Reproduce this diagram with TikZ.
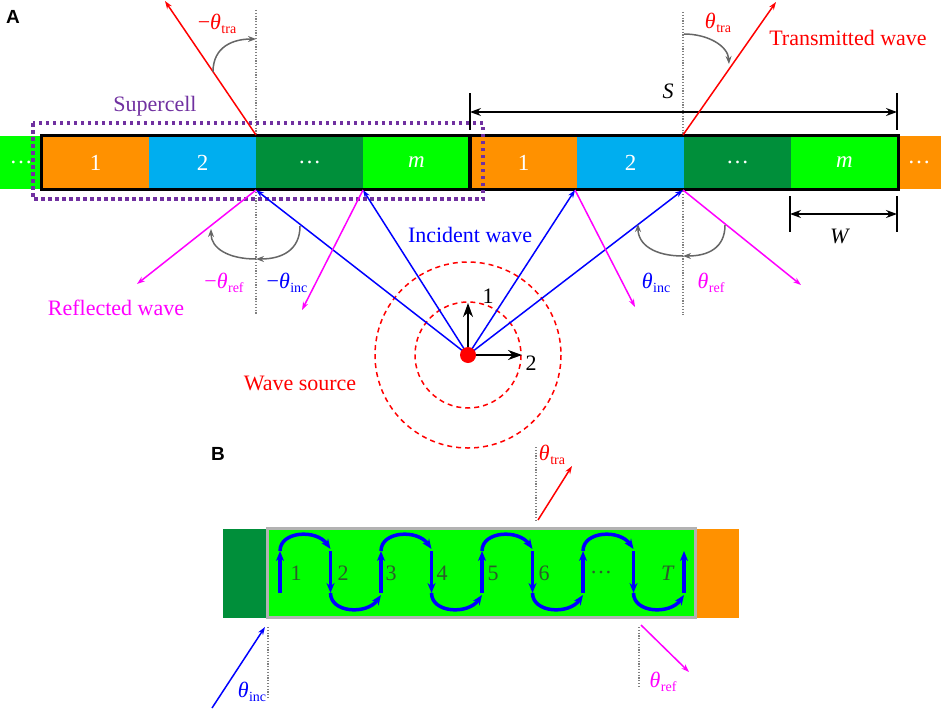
\documentclass[tikz,border=0pt]{standalone}
\usepackage{fontspec}
\setmainfont{Liberation Serif}
\newfontfamily\labelfont{Liberation Sans}
\usetikzlibrary{arrows.meta}

\definecolor{cellorange}{RGB}{255,145,0}
\definecolor{cellblue}{RGB}{0,174,239}
\definecolor{celldark}{RGB}{0,143,58}
\definecolor{cellgreen}{RGB}{0,255,0}
\definecolor{superpurple}{RGB}{112,48,160}
\definecolor{numgray}{RGB}{45,90,45}
\definecolor{refmag}{RGB}{255,0,255}
\definecolor{incblue}{RGB}{0,0,255}
\definecolor{trared}{RGB}{255,0,0}

% angle with a small upright index
\newcommand{\thetaq}[1]{\textit{θ}\kern0.5pt\raisebox{-0.4ex}{\fontsize{14}{14}\selectfont #1}}

\begin{document}
\begin{tikzpicture}[x=1pt, y=-1pt,
  txt/.style={inner sep=0pt, font=\fontsize{22}{24}\selectfont},
  cell/.style={minimum width=107pt, minimum height=53pt, inner sep=0pt, text=white, font=\fontsize{23}{24}\selectfont},
  normal/.style={gray, line width=1.1pt, dash pattern=on 1.2pt off 1.6pt},
  wave/.style={line width=1.5pt, -{Stealth[length=8pt,width=5.5pt]}},
  turn/.style={gray!80!black, line width=1.5pt, -{Stealth[length=8pt,width=6pt]}},
  dim/.style={line width=1.2pt, {Stealth[length=11pt,width=8pt]}-{Stealth[length=11pt,width=8pt]}},
  tick/.style={line width=1.2pt},
  hop/.style={incblue, line width=3.5pt, -{Stealth[length=10pt,width=8pt]}},
  front/.style={trared, line width=1.5pt, dash pattern=on 5pt off 4pt},
  axis/.style={line width=2pt, -{Stealth[length=14pt,width=10pt]}},
  panel/.style={inner sep=0pt, font={\labelfont\bfseries\fontsize{19}{20}\selectfont}}]
\useasboundingbox (0,0) rectangle (941,709);

% ---- panel A
\node[panel] (labA) at (13,17) {A};

\draw[normal] (256,10) -- (256,315);
\draw[normal] (683,12) -- (683,315);

\node[cell, fill=cellgreen, minimum width=42pt] (edgeL) at (21,162) {\ldots};
\node[cell, fill=cellorange, minimum width=44pt] (edgeR) at (919,162.5) {\ldots};
\foreach \s [count=\k] in {0,428} {
  \foreach \c/\t [count=\i] in {cellorange/1, cellblue/2, celldark/{\ldots}, cellgreen/{\textit{m}}}
    \node[cell, fill=\c] (c\k\i) at (42+\s+107*\i-53.5, 162.5) {\t};
}
\draw[line width=3pt] (c11.north west) rectangle (c14.south east);
\draw[line width=3pt] (c21.north west) rectangle (c24.south east);

\draw[superpurple, line width=3.5pt, dash pattern=on 3.5pt off 3.5pt] (33,123) rectangle (483,199);
\node[txt, text=superpurple] (scell) at (155,106) {Supercell};

% dimensions
\coordinate (sA) at (470,112); \coordinate (sB) at (897,112);
\draw[tick] (470,93) -- (470,130);
\draw[tick] (897,93) -- (897,130);
\draw[dim] (sA) -- (sB);
\node[txt] (labS) at (668,91) {\textit{S}};
\coordinate (wA) at (790,214); \coordinate (wB) at (897,214);
\draw[tick] (790,196) -- (790,232);
\draw[tick] (897,196) -- (897,232);
\draw[dim] (wA) -- (wB);
\node[txt] (labW) at (840,236) {\textit{W}};

% transmitted
\coordinate (t1) at (256,135); \coordinate (t2) at (683,135);
\coordinate (tr1) at (165,1);  \coordinate (tr2) at (776,2);
\draw[wave, trared] (t1) -- (tr1);
\draw[wave, trared] (t2) -- (tr2);
\draw[turn] (213,72) .. controls (213,46) and (234,39) .. (256,39);
\draw[turn] (684,34) .. controls (708,34) and (728,46) .. (729,64);
\node[txt, text=trared] (tra1) at (217,24) {−\thetaq{tra}};
\node[txt, text=trared] (tra2) at (718,23) {\thetaq{tra}};
\node[txt, text=trared] (trans) at (848,38) {Transmitted wave};

% incident and reflected
\coordinate (src) at (468,355);
\coordinate (h1) at (256,190); \coordinate (h2) at (363,190);
\coordinate (h3) at (575,190); \coordinate (h4) at (683,190);
\coordinate (r1) at (137,284); \coordinate (r2) at (302,310);
\coordinate (r3) at (635,307); \coordinate (r4) at (801,285);
\draw[front] (src) circle[radius=53];
\draw[front] (src) circle[radius=93];
\foreach \h in {h1,h2,h3,h4} \draw[wave, incblue] (src) -- (\h);
\foreach \h/\r in {h1/r1,h2/r2,h3/r3,h4/r4} \draw[wave, refmag] (\h) -- (\r);

\draw[turn] (300,226) .. controls (300,250) and (282,259) .. (256,259);
\draw[turn] (256,259) .. controls (228,259) and (211,248) .. (211,229);
\draw[turn] (725,225) .. controls (725,248) and (708,256) .. (683,256);
\draw[turn] (683,256) .. controls (655,256) and (638,245) .. (638,224);

\node[txt, text=refmag] (ref1) at (224,283) {−\thetaq{ref}};
\node[txt, text=incblue] (inc1) at (287,283) {−\thetaq{inc}};
\node[txt, text=incblue] (inc2) at (656,283) {\thetaq{inc}};
\node[txt, text=refmag] (ref2) at (711,283) {\thetaq{ref}};
\node[txt, text=incblue] (incw) at (470,235) {Incident wave};
\node[txt, text=refmag] (refw) at (116,308) {Reflected wave};
\node[txt, text=trared] (srcw) at (300,383) {Wave source};

\coordinate (ax1) at (468,303); \coordinate (ax2) at (522,355);
\draw[axis] (src) -- (ax1);
\draw[axis] (src) -- (ax2);
\node[circle, fill=trared, inner sep=0pt, minimum size=16pt] (dot) at (src) {};
\node[txt] (lab1) at (488,296) {1};
\node[txt] (lab2) at (531,363) {2};

% ---- panel B
\node[panel] (labB) at (218,454) {B};
\node[fill=celldark, inner sep=0pt, minimum width=43pt, minimum height=89pt] (bL) at (244.5,573) {};
\node[fill=cellorange, inner sep=0pt, minimum width=42pt, minimum height=89pt] (bR) at (718,573.5) {};
\node[fill=cellgreen, draw=gray!60, line width=3pt, inner sep=0pt, minimum width=428pt, minimum height=89pt] (bBox) at (481.5,573) {};

\foreach \k in {0,2,4,6} {
  \pgfmathsetmacro\xa{280+50.5*\k}
  \pgfmathsetmacro\xb{\xa+50.5}
  \pgfmathsetmacro\xc{\xb+50.5}
  \draw[hop] (\xa,593) -- (\xa,551);
  \draw[hop] (\xa,551) .. controls (\xa,531) and (\xb-14,529) .. (\xb,549);
  \draw[hop] (\xb,551) -- (\xb,593);
  \draw[hop] (\xb,593) .. controls (\xb,613) and (\xc-14,615) .. (\xc,595);
}
\draw[hop] (684,593) -- (684,551);
\foreach \t/\x [count=\i] in {1/296,2/343,3/391,4/442,5/493,6/544,{\ldots}/601,{\textit{T}}/668}
  \node[txt, text=numgray] (n\i) at (\x,573) {\t};

\coordinate (bt0) at (538,520); \coordinate (bt1) at (572,466);
\coordinate (bi0) at (212,708); \coordinate (bi1) at (265,627);
\coordinate (br0) at (641,625); \coordinate (br1) at (689,672);
\draw[normal] (536,447) -- (536,520);
\draw[normal] (268,627) -- (268,699);
\draw[normal] (639,627) -- (639,687);
\draw[wave, trared] (bt0) -- (bt1);
\draw[wave, incblue] (bi0) -- (bi1);
\draw[wave, refmag] (br0) -- (br1);
\node[txt, text=trared] (btra) at (552,455) {\thetaq{tra}};
\node[txt, text=incblue] (binc) at (252,692) {\thetaq{inc}};
\node[txt, text=refmag] (bref) at (663,682) {\thetaq{ref}};
\end{tikzpicture}
\end{document}
